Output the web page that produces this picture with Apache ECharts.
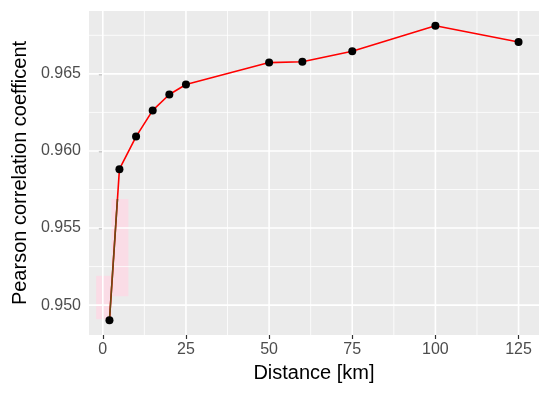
<!DOCTYPE html>
<html>
<head>
<meta charset="utf-8">
<script src="https://cdn.jsdelivr.net/npm/echarts@6/dist/echarts.min.js"></script>
<style>html,body{margin:0;padding:0;background:#fff}#c{width:550px;height:394px}</style>
</head>
<body>
<div id="c"></div>
<script>
// Data
const distance = [2, 5, 10, 15, 20, 25, 50, 60, 75, 100, 125];
const pearson = [0.94902, 0.95882, 0.96093, 0.96263, 0.96366, 0.96431, 0.96573, 0.96578, 0.96647, 0.96812, 0.96707];
// brownish overlay segment on the first link
const overlayX = [2, 4.4];
const overlayY = [0.94902, 0.95688];
// pink shaded regions [x0, y0, x1, y1]
const shades = [[2.6, 0.95688, 7.7, 0.95058], [-2.0, 0.95190, 2.6, 0.94909]];
const xTicks = [0, 25, 50, 75, 100, 125];
const xMinor = [12.5, 37.5, 62.5, 87.5, 112.5];
const yTicks = [0.950, 0.955, 0.960, 0.965];
const yMinor = [0.9525, 0.9575, 0.9625, 0.9675];

const xLo = Math.min(...distance), xHi = Math.max(...distance);
const yLo = Math.min(...pearson), yHi = Math.max(...pearson);
const xPad = (xHi - xLo) * 0.05, yPad = (yHi - yLo) * 0.05;
const X0 = xLo - xPad, X1 = xHi + xPad, Y0 = yLo - yPad, Y1 = yHi + yPad;

function vLines(vals) { const d = []; vals.forEach(v => { d.push([v, Y0], [v, Y1], '-'); }); return d; }
function hLines(vals) { const d = []; vals.forEach(v => { d.push([X0, v], [X1, v], '-'); }); return d; }
function gridSeries(data, w) {
  return {type: 'line', data: data, silent: true, symbol: 'none', z: 1, connectNulls: false,
    lineStyle: {color: '#FFFFFF', width: w}};
}

const chart = echarts.init(document.getElementById('c'), null, {renderer: 'canvas'});
const labelStyle = {color: '#4D4D4D', fontSize: 16, fontFamily: 'Liberation Sans, Arial, sans-serif'};
chart.setOption({
  animation: false,
  grid: {left: 89, right: 11, top: 11, bottom: 59, show: true, backgroundColor: '#EBEBEB', borderWidth: 0},
  xAxis: {
    type: 'value', min: X0, max: X1,
    axisLine: {show: false},
    axisTick: {show: true, customValues: xTicks, length: 4, lineStyle: {color: '#333', width: 1.2}},
    axisLabel: Object.assign({customValues: xTicks, margin: 7}, labelStyle),
    splitLine: {show: false},
    name: 'Distance [km]', nameLocation: 'middle', nameGap: 28,
    nameTextStyle: {color: '#000', fontSize: 20, fontFamily: 'Liberation Sans, Arial, sans-serif'}
  },
  yAxis: {
    type: 'value', min: Y0, max: Y1,
    axisLine: {show: false},
    axisTick: {show: true, customValues: yTicks, length: 4, lineStyle: {color: '#333', width: 1.2}},
    axisLabel: Object.assign({customValues: yTicks, margin: 8, formatter: v => v.toFixed(3)}, labelStyle),
    splitLine: {show: false},
    name: 'Pearson correlation coefficent', nameLocation: 'middle', nameGap: 57,
    nameTextStyle: {color: '#000', fontSize: 20, fontFamily: 'Liberation Sans, Arial, sans-serif'}
  },
  series: [
    {
      type: 'line', data: [], silent: true, z: 0,
      markArea: {
        silent: true,
        itemStyle: {color: '#FADCE6'},
        data: shades.map(s => [{xAxis: s[0], yAxis: s[1]}, {xAxis: s[2], yAxis: s[3]}])
      }
    },
    gridSeries(vLines(xMinor), 0.8),
    gridSeries(hLines(yMinor), 0.8),
    gridSeries(vLines(xTicks), 1.6),
    gridSeries(hLines(yTicks), 1.6),
    {
      type: 'line', z: 3,
      data: distance.map((d, i) => [d, pearson[i]]),
      lineStyle: {color: '#FF0000', width: 1.6},
      symbol: 'none'
    },
    {
      type: 'line', z: 4,
      data: overlayX.map((d, i) => [d, overlayY[i]]),
      lineStyle: {color: '#6B4A14', width: 1.6},
      symbol: 'none'
    },
    {
      type: 'scatter', z: 5,
      data: distance.map((d, i) => [d, pearson[i]]),
      symbol: 'circle', symbolSize: 8,
      itemStyle: {color: '#000', opacity: 1}
    }
  ]
});
</script>
</body>
</html>
